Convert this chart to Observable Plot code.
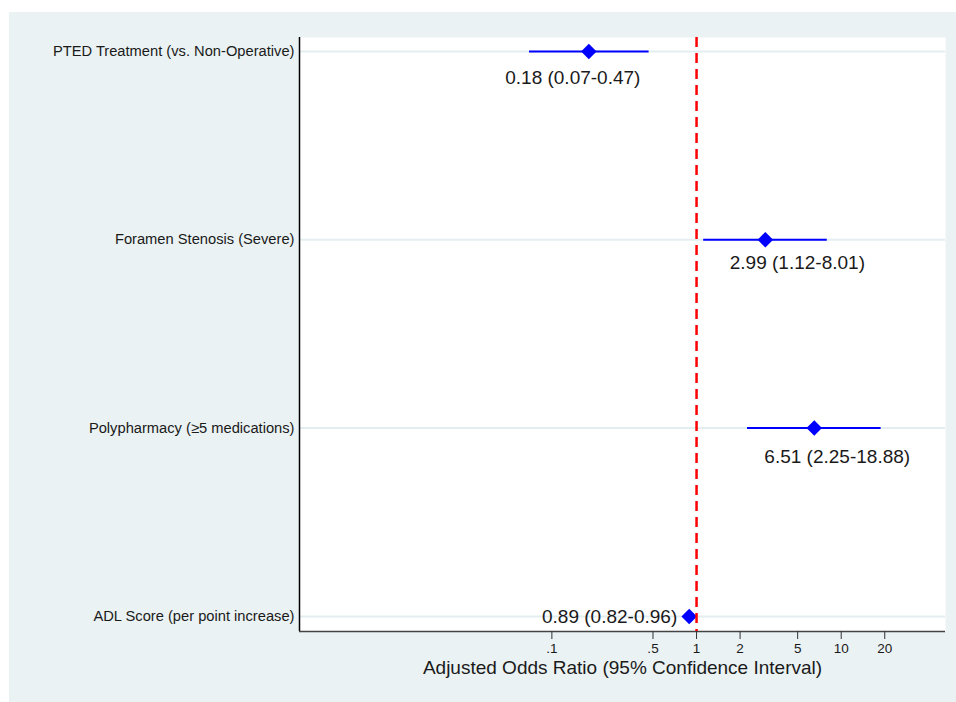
<!DOCTYPE html>
<html><head><meta charset="utf-8">
<script src="https://cdn.jsdelivr.net/npm/d3@7"></script>
<script src="https://cdn.jsdelivr.net/npm/@observablehq/plot@0.6"></script>
<style>
html,body{margin:0;padding:0;background:#fff;}
#chart{position:absolute;left:9px;top:12px;}
#chart svg{display:block;}
</style></head><body><div id="chart"></div>
<script>
const categories = ["PTED Treatment (vs. Non-Operative)", "Foramen Stenosis (Severe)", "Polypharmacy (≥5 medications)", "ADL Score (per point increase)"];
const oddsRatio = [0.18, 2.99, 6.51, 0.89];
const ciLow = [0.07, 1.12, 2.25, 0.82];
const ciHigh = [0.47, 8.01, 18.88, 0.96];
const xTicks = [0.1, 0.5, 1, 2, 5, 10, 20];
const xTickLabels = [".1", ".5", "1", "2", "5", "10", "20"];
const axisTitle = "Adjusted Odds Ratio (95% Confidence Interval)";
const refValue = 1;

const rows = categories.map((c, i) => ({
  cat: c,
  pos: categories.length - i,
  or: oddsRatio[i],
  lo: ciLow[i],
  hi: ciHigh[i],
  label: `${oddsRatio[i].toFixed(2)} (${ciLow[i].toFixed(2)}-${ciHigh[i].toFixed(2)})`
}));
const tickRows = xTicks.map((t, i) => ({t, label: xTickLabels[i]}));

const xDomain = [0.0018, 52.6];
const yDomain = [0.92, 4.074];

// label placement (style), one per row
const placement = [
  {dx: -16, dy: 26, textAnchor: "middle"},
  {dx: 32, dy: 23, textAnchor: "middle"},
  {dx: 23, dy: 29, textAnchor: "middle"},
  {dx: -12, dy: 0, textAnchor: "end"}
];
const labelMarks = rows.map((r, i) => Plot.text([r], {
  x: "or", y: "pos", text: "label",
  dx: placement[i].dx, dy: placement[i].dy, textAnchor: placement[i].textAnchor,
  fontSize: 19, fill: "#1a1a1a"
}));

const chart = Plot.plot({
  width: 947, height: 690,
  marginLeft: 290, marginRight: 11, marginTop: 25, marginBottom: 71,
  style: {background: "#eaf2f3", fontFamily: "'Liberation Sans', Arial, sans-serif", color: "#1a1a1a"},
  x: {type: "log", domain: xDomain},
  y: {domain: yDomain},
  marks: [
    Plot.frame({fill: "white", stroke: "none"}),
    Plot.ruleY(rows, {y: "pos", stroke: "#e4eef0", strokeWidth: 2}),
    Plot.ruleX([xDomain[0]], {stroke: "#000", strokeWidth: 1.5}),
    Plot.ruleY([yDomain[0]], {stroke: "#444", strokeWidth: 1.5}),
    Plot.axisX({ticks: xTicks, tickSize: 8, text: null, stroke: "#333", label: null}),
    Plot.text(tickRows, {x: "t", text: "label", frameAnchor: "bottom", dy: 21.5, fontSize: 13.5, fill: "#1a1a1a"}),
    Plot.axisY({ticks: rows.map(r => r.pos), tickFormat: p => rows.find(r => r.pos === p).cat, tickSize: 0, tickPadding: 5, fontSize: 14.7, fill: "#1a1a1a", label: null}),
    Plot.ruleY(rows, {y: "pos", x1: "lo", x2: "hi", stroke: "#0000ff", strokeWidth: 2}),
    Plot.dot(rows, {x: "or", y: "pos", symbol: "diamond2", r: 7, fill: "#0000ff", stroke: "none"}),
    Plot.ruleX([refValue], {stroke: "#ff0000", strokeWidth: 2.5, strokeDasharray: "10,6"}),
    ...labelMarks,
    Plot.text([axisTitle], {frameAnchor: "bottom", dy: 42, fontSize: 19, fill: "#1a1a1a"})
  ]
});
document.getElementById("chart").appendChild(chart);
</script>
</body></html>
